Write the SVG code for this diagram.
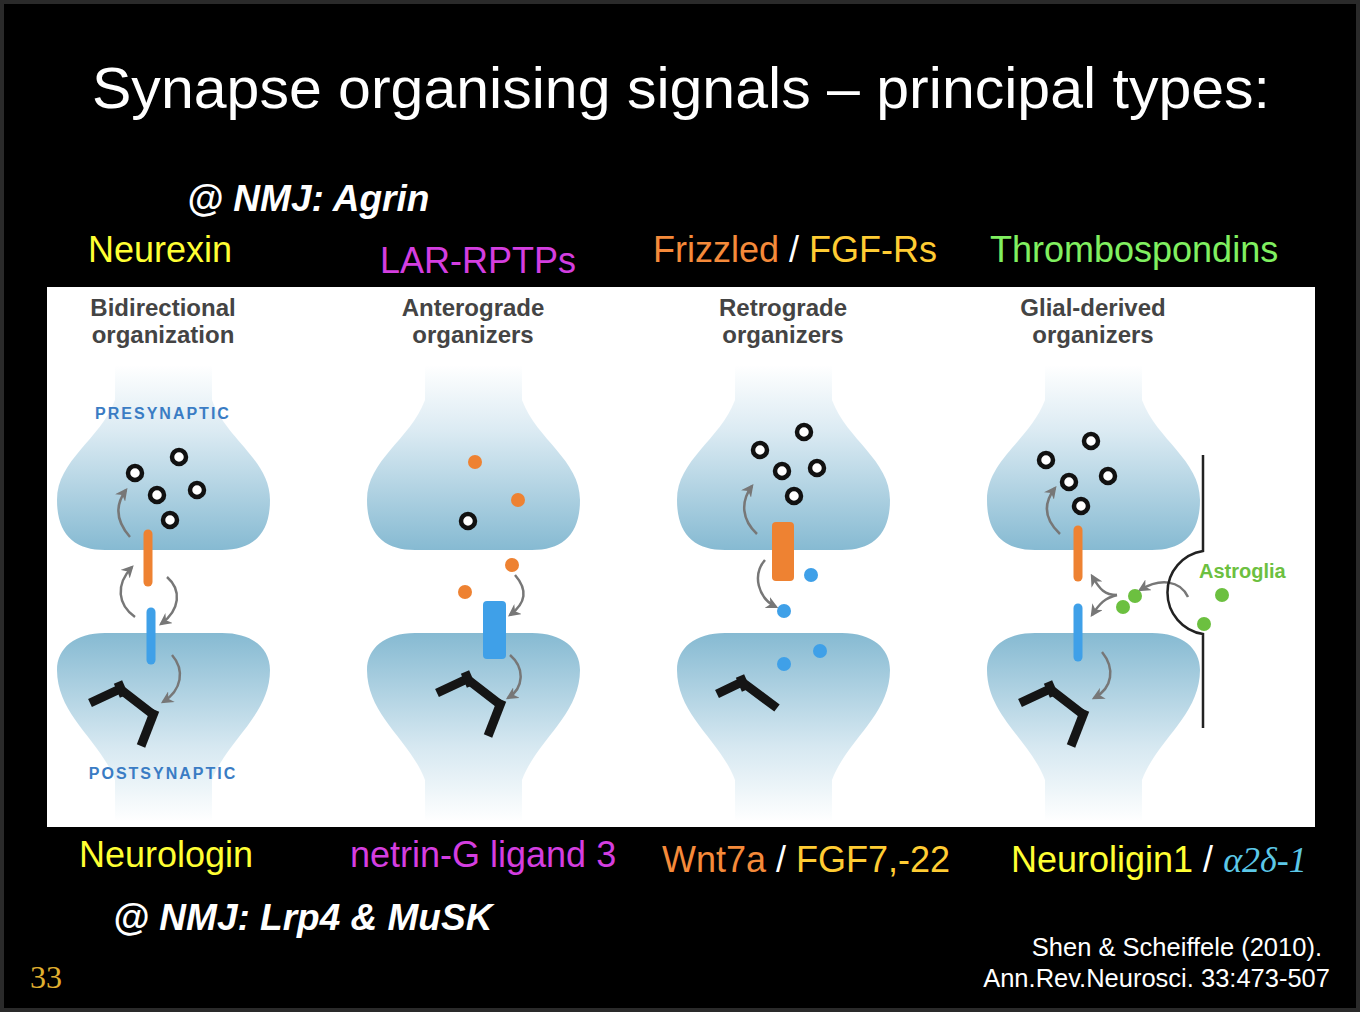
<svg xmlns="http://www.w3.org/2000/svg" xmlns:xlink="http://www.w3.org/1999/xlink" width="1360" height="1012" viewBox="0 0 1360 1012">
<style>
.t{font-family:"Liberation Sans",Arial,sans-serif}
.h{font-family:"Liberation Sans",Arial,sans-serif;font-size:24px;font-weight:bold;fill:#444;text-anchor:middle}
.lab{font-size:36px}
.nmj{font-size:37px;font-weight:bold;font-style:italic;fill:#fff}
.ves{fill:#fff;stroke:#111;stroke-width:4.5}
.arr{fill:none;stroke:#777;stroke-width:2.5;marker-end:url(#ah)}
.rec{fill:none;stroke:#151515;stroke-width:9;stroke-linejoin:miter}
.side{font-family:"Liberation Sans",Arial,sans-serif;font-size:16px;font-weight:bold;fill:#3a7cc4;letter-spacing:2px}
</style>
<defs>
<linearGradient id="gpre" x1="0" y1="0" x2="0" y2="1">
<stop offset="0" stop-color="#fff"/><stop offset="0.35" stop-color="#dcebf3"/><stop offset="1" stop-color="#86bad2"/></linearGradient>
<linearGradient id="gpost" x1="0" y1="0" x2="0" y2="1">
<stop offset="0" stop-color="#86bad2"/><stop offset="0.6" stop-color="#d6e8f1"/><stop offset="1" stop-color="#fff"/></linearGradient>
<marker id="ah" viewBox="0 0 10 10" refX="8" refY="5" markerWidth="5" markerHeight="5" orient="auto"><path d="M0,0L10,5L0,10L3,5z" fill="#777"/></marker>
<g id="syn">
<path d="M115,365 L115,400 C100,440 57,460 57,500 C57,535 75,550 105,550 L222,550 C252,550 270,535 270,500 C270,460 227,440 212,400 L212,365 Z" fill="url(#gpre)"/>
<path d="M105,633 L222,633 C252,633 270,648 270,670 C270,715 227,740 212,780 L212,822 L115,822 L115,780 C100,740 57,715 57,670 C57,648 75,633 105,633 Z" fill="url(#gpost)"/>
</g>
<g id="yrec"><path class="rec" d="M90,703 L120,689 L155,716"/><path class="rec" d="M118,682 L124,696"/><path class="rec" d="M155,710 L141,746"/></g>
</defs>
<rect x="0" y="0" width="1360" height="1012" fill="#000"/>
<rect x="2" y="2" width="1356" height="1008" fill="none" stroke="#2a2a2a" stroke-width="4"/>
<text class="t" x="92" y="108" font-size="58" fill="#fff" textLength="1178" lengthAdjust="spacingAndGlyphs">Synapse organising signals – principal types:</text>
<text class="t nmj" x="187" y="211">@ NMJ: Agrin</text>
<text class="t lab" x="88" y="262" fill="#ffff33">Neurexin</text>
<text class="t lab" x="380" y="273" fill="#d43ee0">LAR-RPTPs</text>
<text class="t lab" x="653" y="262"><tspan fill="#f58a3a">Frizzled</tspan><tspan fill="#fff"> / </tspan><tspan fill="#ffcc33">FGF-Rs</tspan></text>
<text class="t lab" x="990" y="262" fill="#80f060">Thrombospondins</text>
<rect x="47" y="287" width="1268" height="540" fill="#fff"/>
<g id="panel1">
<text class="h" x="163" y="316">Bidirectional</text><text class="h" x="163" y="343">organization</text>
<use href="#syn"/>
<text class="side" x="163" y="419" text-anchor="middle">PRESYNAPTIC</text>
<text class="side" x="163" y="779" text-anchor="middle">POSTSYNAPTIC</text>
<circle class="ves" cx="135" cy="473" r="7"/><circle class="ves" cx="179" cy="457" r="7"/><circle class="ves" cx="157" cy="495" r="7"/><circle class="ves" cx="197" cy="490" r="7"/><circle class="ves" cx="170" cy="520" r="7"/>
<line x1="148" y1="534" x2="148" y2="582" stroke="#ee8232" stroke-width="9" stroke-linecap="round"/>
<line x1="151" y1="612" x2="151" y2="660" stroke="#3fa0e8" stroke-width="9" stroke-linecap="round"/>
<path class="arr" d="M130,537 C115,520 115,505 126,490"/>
<path class="arr" d="M135,617 C118,605 115,585 132,567"/>
<path class="arr" d="M167,577 C182,590 180,610 161,624"/>
<path class="arr" d="M172,655 C185,670 182,690 163,702"/>
<use href="#yrec"/>
</g>
<g id="panel2">
<text class="h" x="473" y="316">Anterograde</text><text class="h" x="473" y="343">organizers</text>
<use href="#syn" transform="translate(310,0)"/>
<circle cx="475" cy="462" r="7" fill="#ee8232"/><circle cx="518" cy="500" r="7" fill="#ee8232"/><circle cx="465" cy="592" r="7" fill="#ee8232"/><circle cx="512" cy="565" r="7" fill="#ee8232"/>
<circle class="ves" cx="468" cy="521" r="7"/>
<rect x="483" y="601" width="23" height="58" rx="4" fill="#3fa0e8"/>
<path class="arr" d="M515,575 C528,590 526,603 510,615"/>
<path class="arr" d="M510,655 C525,668 524,688 508,698"/>
<use href="#yrec" transform="translate(347,-10)"/>
</g>
<g id="panel3">
<text class="h" x="783" y="316">Retrograde</text><text class="h" x="783" y="343">organizers</text>
<use href="#syn" transform="translate(620,0)"/>
<circle class="ves" cx="804" cy="432" r="7"/><circle class="ves" cx="760" cy="450" r="7"/><circle class="ves" cx="782" cy="471" r="7"/><circle class="ves" cx="817" cy="468" r="7"/><circle class="ves" cx="794" cy="496" r="7"/>
<rect x="772" y="522" width="22" height="59" rx="4" fill="#ee8232"/>
<circle cx="811" cy="575" r="7" fill="#3fa0e8"/><circle cx="784" cy="611" r="7" fill="#3fa0e8"/><circle cx="784" cy="664" r="7" fill="#3fa0e8"/><circle cx="820" cy="651" r="7" fill="#3fa0e8"/>
<path class="arr" d="M757,534 C742,520 740,502 752,486"/>
<path class="arr" d="M765,560 C752,575 758,598 776,607"/>
<path class="rec" d="M717,694 L742,682 L777,708"/>
<path class="rec" d="M740,676 L746,690"/>
</g>
<g id="panel4">
<text class="h" x="1093" y="316">Glial-derived</text><text class="h" x="1093" y="343">organizers</text>
<use href="#syn" transform="translate(930,0)"/>
<circle class="ves" cx="1046" cy="460" r="7"/><circle class="ves" cx="1091" cy="441" r="7"/><circle class="ves" cx="1069" cy="482" r="7"/><circle class="ves" cx="1108" cy="476" r="7"/><circle class="ves" cx="1081" cy="506" r="7"/>
<line x1="1078" y1="530" x2="1078" y2="577" stroke="#ee8232" stroke-width="9" stroke-linecap="round"/>
<line x1="1078" y1="608" x2="1078" y2="657" stroke="#3fa0e8" stroke-width="9" stroke-linecap="round"/>
<path class="arr" d="M1060,534 C1045,520 1042,505 1055,488"/>
<path class="arr" d="M1102,652 C1115,668 1113,688 1094,698"/>
<path class="arr" d="M1117,595 C1105,595 1100,590 1092,576"/>
<path class="arr" d="M1117,595 C1105,598 1100,603 1092,615"/>
<path class="arr" d="M1188,597 C1180,580 1160,578 1140,590"/>
<path d="M1203,455 L1203,551 A42,42 0 0 0 1203,634 L1203,728" fill="none" stroke="#222" stroke-width="2.5"/>
<circle cx="1135" cy="596" r="7" fill="#6cc040"/><circle cx="1123" cy="607" r="7" fill="#6cc040"/><circle cx="1222" cy="595" r="7" fill="#6cc040"/><circle cx="1204" cy="624" r="7" fill="#6cc040"/>
<text class="t" x="1199" y="578" font-size="20" font-weight="bold" fill="#6cc040">Astroglia</text>
<use href="#yrec" transform="translate(930,0)"/>
</g>
<text class="t lab" x="79" y="867" fill="#ffff33">Neurologin</text>
<text class="t lab" x="350" y="867" fill="#d43ee0">netrin-G ligand 3</text>
<text class="t lab" x="662" y="872"><tspan fill="#f58a3a">Wnt7a</tspan><tspan fill="#fff"> / </tspan><tspan fill="#ffcc33">FGF7,-22</tspan></text>
<text class="t lab" x="1011" y="872"><tspan fill="#ffff33">Neuroligin1</tspan><tspan fill="#fff"> / </tspan><tspan fill="#5cc8e8" font-family="Liberation Serif,serif" font-style="italic">α2δ-1</tspan></text>
<text class="t nmj" x="113" y="930">@ NMJ: Lrp4 &amp; MuSK</text>
<text class="t" x="1322" y="956" font-size="25.5" fill="#fff" text-anchor="end">Shen &amp; Scheiffele (2010).</text>
<text class="t" x="1330" y="987" font-size="25.5" fill="#fff" text-anchor="end">Ann.Rev.Neurosci. 33:473-507</text>
<text x="30" y="988" font-family="Liberation Serif,serif" font-size="32" fill="#e0b030">33</text>
</svg>
